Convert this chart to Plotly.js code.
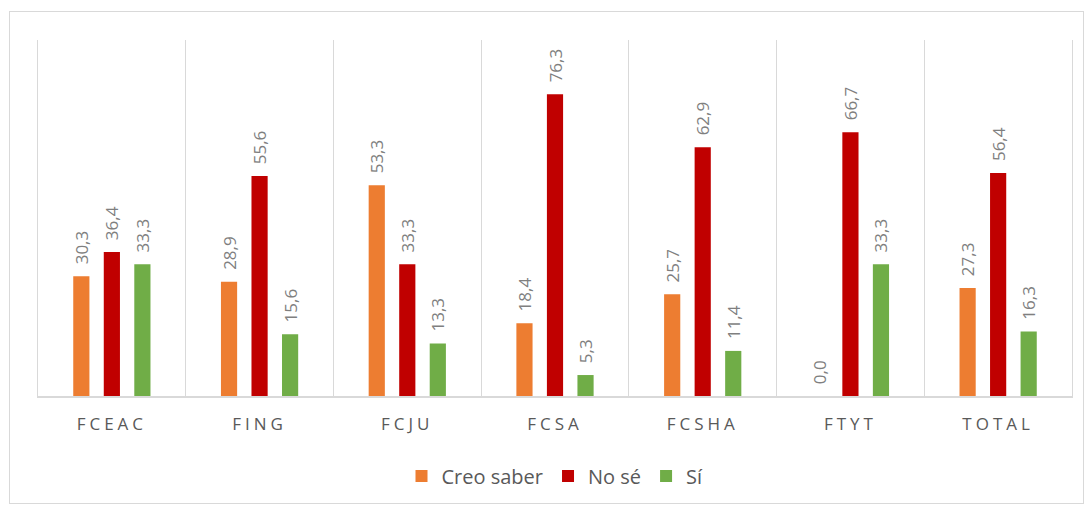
<!DOCTYPE html>
<html>
<head>
<meta charset="utf-8">
<script src="https://cdn.plot.ly/plotly-3.0.1.min.js"></script>
<style>
  html, body { margin: 0; padding: 0; background: #fff; }
  #wrap { position: relative; width: 1088px; height: 508px; }
  #chart { width: 1088px; height: 508px; }
  #frame { position: absolute; left: 9px; top: 11px; width: 1075px; height: 493px;
           border: 1px solid #d9d9d9; box-sizing: border-box; pointer-events: none; }
  .xtick text { letter-spacing: 4px; }
</style>
</head>
<body>
<div id="wrap">
  <div id="chart"></div>
  <div id="frame"></div>
</div>
<script>
var categories = ["FCEAC", "FING", "FCJU", "FCSA", "FCSHA", "FTYT", "TOTAL"];
var creoSaber = [30.3, 28.9, 53.3, 18.4, 25.7, 0.0, 27.3];
var noSe      = [36.4, 55.6, 33.3, 76.3, 62.9, 66.7, 56.4];
var si        = [33.3, 15.6, 13.3, 5.3, 11.4, 33.3, 16.3];
var seriesNames = ["Creo saber", "No sé", "Sí"];
var seriesColors = ["#ED7D31", "#C00000", "#70AD47"];
var seriesValues = [creoSaber, noSe, si];

var traces = seriesValues.map(function (vals, i) {
  return {
    type: "bar",
    name: seriesNames[i],
    x: categories,
    y: vals,
    marker: { color: seriesColors[i] },
    texttemplate: "\u00a0\u00a0%{y:.1f}",
    textposition: "outside",
    textangle: -90,
    constraintext: "none",
    cliponaxis: false,
    textfont: { family: "Open Sans, sans-serif", size: 17, color: "#7f7f7f" },
    hoverinfo: "x+y+name"
  };
});

var layout = {
  width: 1088,
  height: 508,
  margin: { l: 38, r: 16, t: 40, b: 112 },
  paper_bgcolor: "#ffffff",
  plot_bgcolor: "#ffffff",
  separators: ",.",
  barmode: "group",
  bargap: 0.38,
  bargroupgap: 0.47,
  showlegend: true,
  legend: {
    orientation: "h",
    x: 0.5, xanchor: "center",
    y: -0.225, yanchor: "middle",
    font: { family: "Open Sans, sans-serif", size: 20, color: "#595959" },
    itemsizing: "constant"
  },
  xaxis: {
    type: "category",
    tickson: "boundaries",
    showgrid: true,
    gridcolor: "#d9d9d9",
    gridwidth: 1,
    showline: true,
    linecolor: "#d9d9d9",
    linewidth: 1.5,
    ticks: "",
    ticklen: 0,
    ticklabelstandoff: 12,
    tickfont: { family: "Open Sans, sans-serif", size: 17, color: "#595959" },
    range: [-0.5, 6.5],
    fixedrange: true
  },
  yaxis: {
    range: [0, 90],
    showgrid: false,
    zeroline: false,
    showline: true,
    mirror: true,
    linecolor: "#d9d9d9",
    linewidth: 1,
    showticklabels: false,
    ticks: "",
    fixedrange: true
  }
};

Plotly.newPlot("chart", traces, layout, { displayModeBar: false, staticPlot: true });
</script>
</body>
</html>
